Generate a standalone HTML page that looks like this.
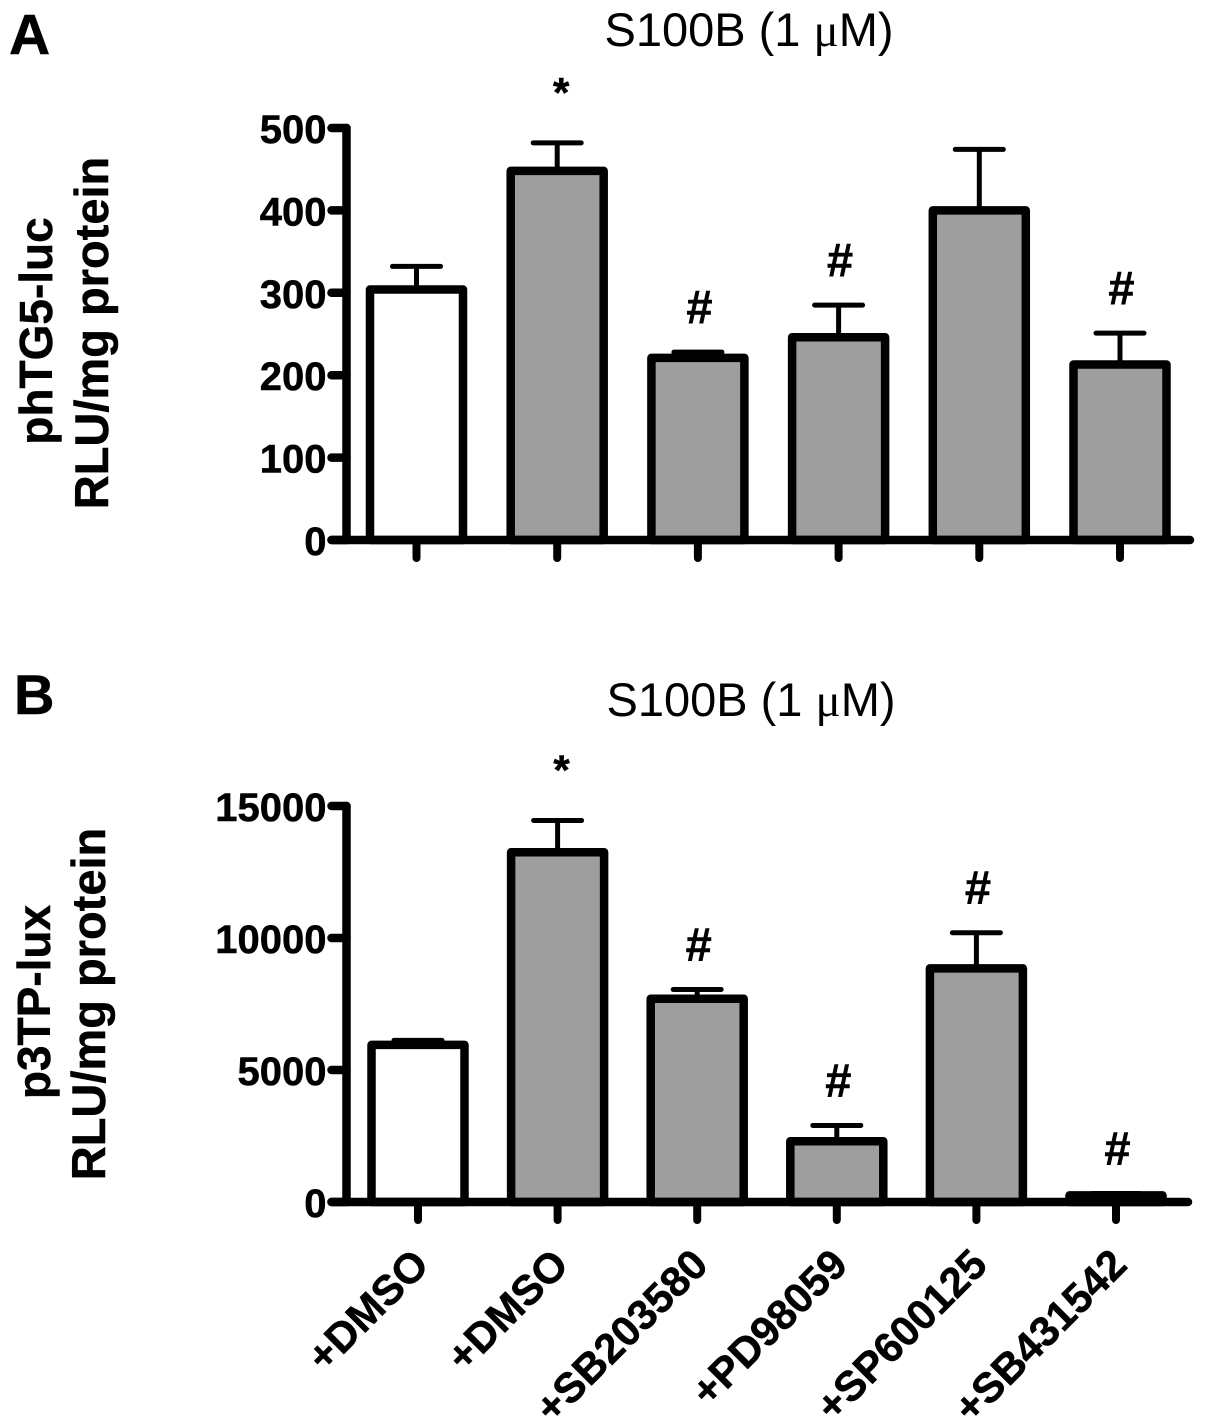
<!DOCTYPE html>
<html>
<head>
<meta charset="utf-8">
<style>
html,body{margin:0;padding:0;background:#fff;}
svg{display:block;}
text{font-family:"Liberation Sans",sans-serif;fill:#000;}
text[font-weight="bold"]{stroke:#000;stroke-width:0.5px;}
</style>
</head>
<body>
<svg id="chart" width="1205" height="1422" viewBox="0 0 1205 1422" xmlns="http://www.w3.org/2000/svg">
  <rect width="1205" height="1422" fill="#fff"/>
  <text x="9" y="54" font-size="57" font-weight="bold">A</text>
  <text x="14" y="714" font-size="56" font-weight="bold">B</text>
  <text x="749" y="46" text-anchor="middle" font-size="47">S100B (1 <tspan font-family="Liberation Serif">μ</tspan>M)</text>
  <text x="751" y="716" text-anchor="middle" font-size="47">S100B (1 <tspan font-family="Liberation Serif">μ</tspan>M)</text>
  <text transform="translate(52,331) rotate(-90)" text-anchor="middle" font-size="46" font-weight="bold">phTG5-luc</text>
  <text transform="translate(108,333) rotate(-90)" text-anchor="middle" font-size="47" font-weight="bold">RLU/mg protein</text>
  <text transform="translate(50,1002) rotate(-90)" text-anchor="middle" font-size="46" font-weight="bold">p3TP-lux</text>
  <text transform="translate(105,1004) rotate(-90)" text-anchor="middle" font-size="47" font-weight="bold">RLU/mg protein</text>
  <g id="panelA"></g>
  <g id="panelB"></g>
</svg>
<script>
const categories = ['+DMSO', '+DMSO', '+SB203580', '+PD98059', '+SP600125', '+SB431542'];
const barFills = ['#fff', '#9e9e9e', '#9e9e9e', '#9e9e9e', '#9e9e9e', '#9e9e9e'];

const valuesA = [304, 448, 221, 246, 400, 213];
const errorTopsA = [332, 482, 228, 285, 474, 251];
const marksA = ['', '*', '#', '#', '', '#'];
const ticksA = [0, 100, 200, 300, 400, 500];

const valuesB = [5950, 13250, 7700, 2300, 8850, 250];
const errorTopsB = [6120, 14450, 8050, 2900, 10200, 320];
const marksB = ['', '*', '#', '#', '#', '#'];
const ticksB = [0, 5000, 10000, 15000];

const NS = 'http://www.w3.org/2000/svg';

function make(parent, tag, attrs, text) {
  const el = document.createElementNS(NS, tag);
  for (const k in attrs) el.setAttribute(k, attrs[k]);
  if (text !== undefined) el.textContent = text;
  parent.appendChild(el);
  return el;
}

function drawPanel(opts) {
  const g = opts.group;
  const y = v => opts.y0 - (v / opts.yMax) * (opts.y0 - opts.yTop);
  const x = i => opts.x0 + i * opts.step;

  opts.values.forEach((v, i) => {
    const cx = x(i);
    const eTop = y(opts.errors[i]);
    const stem = make(g, 'line', {x1: cx, x2: cx, y1: y(v), y2: eTop, stroke: '#000', 'stroke-width': 5});
    
    
    const cap = make(g, 'line', {x1: cx - 24, x2: cx + 24, y1: eTop, y2: eTop, stroke: '#000', 'stroke-width': 5, 'stroke-linecap': 'round'});
    
    
    const bar = make(g, 'rect', {x: cx - 46.5, y: y(v), width: 93, height: opts.y0 - y(v), fill: barFills[i], stroke: '#000', 'stroke-width': 8.5, 'stroke-linejoin': 'round'});
    
    
    if (opts.marks[i]) {
      const star = opts.marks[i] === '*';
      const mark = make(g, 'text', {x: cx + (star ? 4 : 1.5), y: eTop - (star ? 36 : 28.5), 'text-anchor': 'middle', 'font-size': star ? 42 : 47, 'font-weight': 'bold'}, opts.marks[i]);
      
      
    }
    const tick = make(g, 'line', {x1: cx, x2: cx, y1: opts.y0, y2: opts.y0 + 18, stroke: '#000', 'stroke-width': 8, 'stroke-linecap': 'round'});
    
    
    if (opts.showLabels) {
      const lx = cx + 13, ly = opts.y0 + 65;
      const label = make(g, 'text', {transform: 'translate(' + lx + ',' + ly + ') rotate(-45)', 'text-anchor': 'end', 'font-size': 42, 'font-weight': 'bold'}, categories[i]);
      
      
    }
  });

  const yAxis = make(g, 'line', {x1: opts.axisX, x2: opts.axisX, y1: opts.yTop, y2: opts.y0, stroke: '#000', 'stroke-width': 8.5, 'stroke-linecap': 'round'});
  
  
  const xAxis = make(g, 'line', {x1: opts.axisX - 15, x2: opts.xEnd, y1: opts.y0, y2: opts.y0, stroke: '#000', 'stroke-width': 8.5, 'stroke-linecap': 'round'});
  
  

  opts.ticks.forEach(t => {
    const yy = y(t);
    const tick = make(g, 'line', {x1: opts.axisX - 15, x2: opts.axisX, y1: yy, y2: yy, stroke: '#000', 'stroke-width': 8.5, 'stroke-linecap': 'round'});
    
    
    const label = make(g, 'text', {x: opts.axisX - 20, y: yy + 15, 'text-anchor': 'end', 'font-size': 40, 'font-weight': 'bold'}, t);
    
    
  });
}

drawPanel({
  group: document.getElementById('panelA'),
  values: valuesA, errors: errorTopsA, marks: marksA, ticks: ticksA,
  y0: 540, yTop: 128, yMax: 500, x0: 416.5, step: 140.7, axisX: 346.5, xEnd: 1190, showLabels: false
});
drawPanel({
  group: document.getElementById('panelB'),
  values: valuesB, errors: errorTopsB, marks: marksB, ticks: ticksB,
  y0: 1202, yTop: 806, yMax: 15000, x0: 418, step: 139.6, axisX: 346.5, xEnd: 1188, showLabels: true
});
</script>
</body>
</html>
